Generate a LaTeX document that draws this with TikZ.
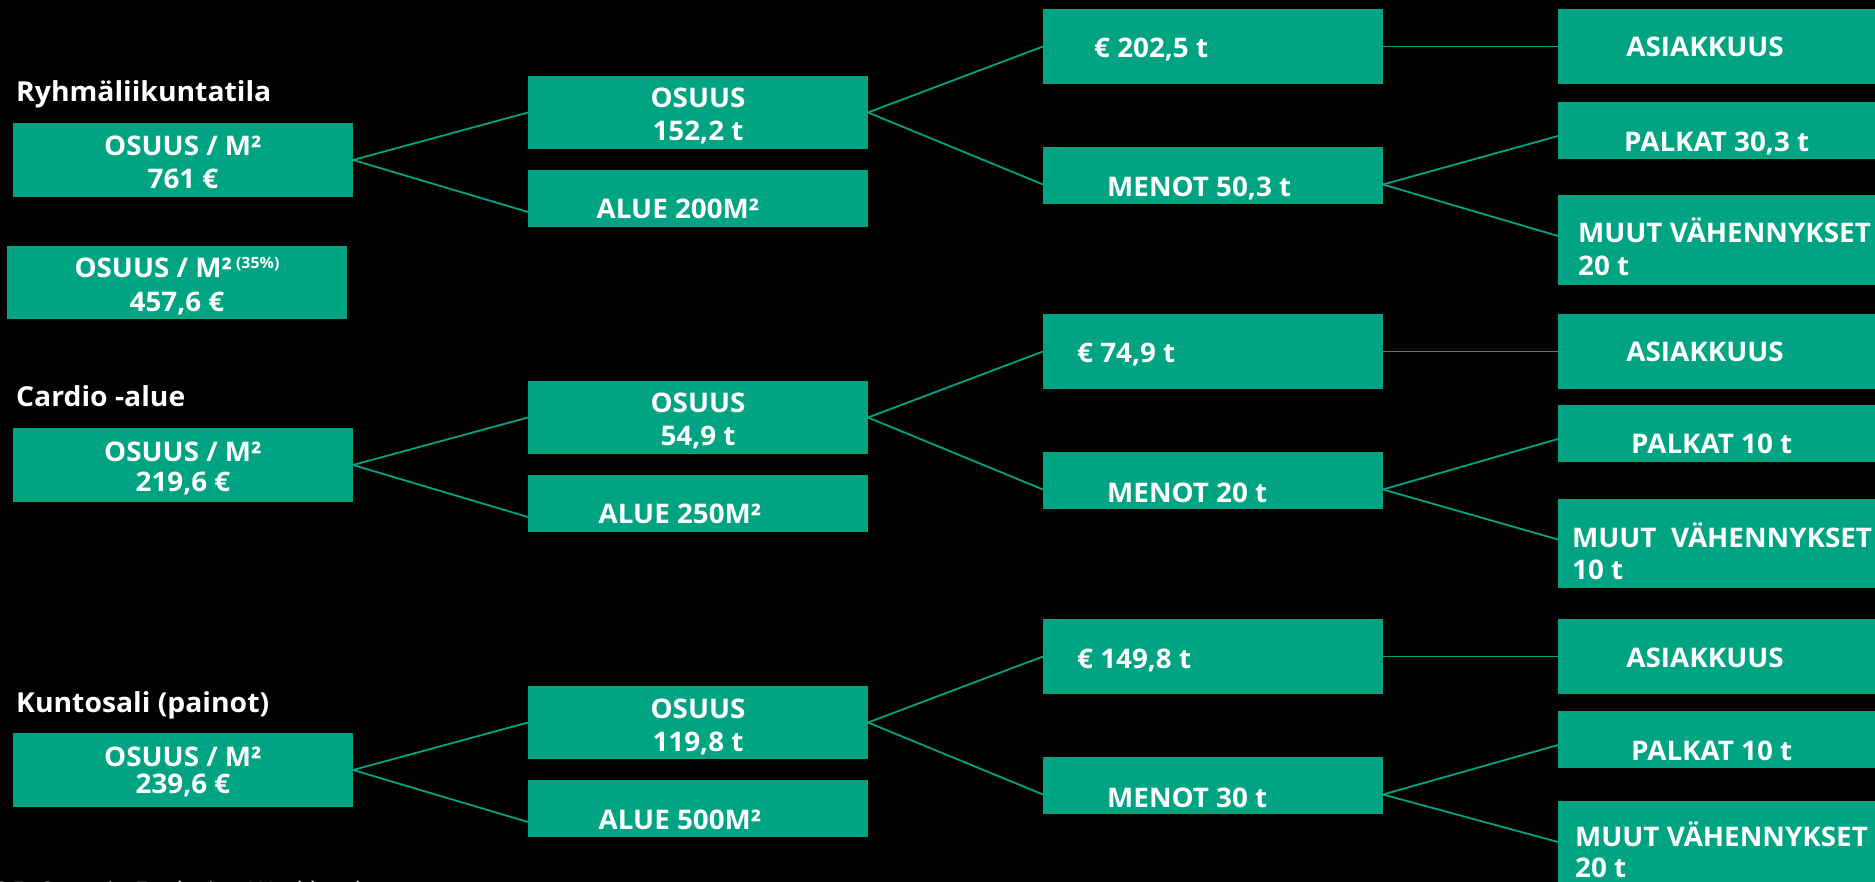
\documentclass[tikz,border=0pt]{standalone}
\usepackage{fontspec}
\setmainfont{Open Sans}[FakeStretch=1.03]
\definecolor{grn}{RGB}{0,164,130}
\tikzset{
  box/.style={fill=grn, draw=none, inner sep=0pt, outer sep=0pt, anchor=north west},
  btxt/.style={text=white, font=\bfseries\fontsize{27}{30}\selectfont, inner sep=0pt, anchor=base},
  ltxt/.style={btxt, anchor=base west},
  ttl/.style={text=white, font=\bfseries\fontsize{27.5}{30}\selectfont, inner sep=0pt, anchor=base west},
  foot/.style={text=white, font=\fontsize{24}{28}\selectfont, inner sep=0pt, anchor=base west},
  conn/.style={draw=grn, line width=1.8pt},
}
\newcommand\gbox[5]{\node[box, minimum width=#4pt, minimum height=#5pt] (#1) at (#2,#3) {};}
\newcommand\supp{\hspace{4pt}\raisebox{9pt}{\fontsize{15.5}{15.5}\selectfont (35\%)}}
\begin{document}
\begin{tikzpicture}[x=1pt, y=-1pt]
\clip (0,0) rectangle (1875,882);
\fill[black] (0,0) rectangle (1875,882);

% ---------- group 1 ----------
\gbox{a1}{13}{123}{340}{74}
\gbox{a2}{7}{246}{340}{73}
\gbox{os1}{528}{76}{340}{73}
\gbox{al1}{528}{170}{340}{57}
\gbox{eu1}{1043}{9}{340}{75}
\gbox{me1}{1043}{147}{340}{57}
\gbox{as1}{1558}{9}{340}{75}
\gbox{pa1}{1558}{102}{340}{57}
\gbox{mu1}{1558}{195}{340}{90}

% ---------- group 2 ----------
\gbox{b1}{13}{428}{340}{74}
\gbox{os2}{528}{381}{340}{73}
\gbox{al2}{528}{475}{340}{57}
\gbox{eu2}{1043}{314}{340}{75}
\gbox{me2}{1043}{452}{340}{57}
\gbox{as2}{1558}{314}{340}{75}
\gbox{pa2}{1558}{405}{340}{57}
\gbox{mu2}{1558}{499}{340}{89}

% ---------- group 3 ----------
\gbox{c1}{13}{733}{340}{74}
\gbox{os3}{528}{686}{340}{73}
\gbox{al3}{528}{780}{340}{57}
\gbox{eu3}{1043}{619}{340}{75}
\gbox{me3}{1043}{757}{340}{57}
\gbox{as3}{1558}{619}{340}{75}
\gbox{pa3}{1558}{711}{340}{57}
\gbox{mu3}{1558}{801}{340}{90}

% ---------- connectors ----------
\foreach \g/\l in {1/a1,2/b1,3/c1}{
  \draw[conn] (\l.east) -- (os\g.west);
  \draw[conn] (\l.east) -- ([yshift=-13.5pt]al\g.west);
  \draw[conn] (os\g.east) -- (eu\g.west);
  \draw[conn] (os\g.east) -- ([yshift=-9pt]me\g.west);
  \draw[conn] (eu\g.east) -- (as\g.west);
  \draw[conn] ([yshift=-9pt]me\g.east) -- ([yshift=-5.5pt]pa\g.west);
  \draw[conn] ([yshift=-9pt]me\g.east) -- ([yshift=4pt]mu\g.west);
}

% ---------- texts group 1 ----------
\node[ttl] (t1) at (16,102) {Ryhmäliikuntatila};
\node[btxt] (a1t1) at (183,156) {OSUUS / M²};
\node[btxt] (a1t2) at (183,189) {761 €};
\node[btxt] (a2t1) at (177,278) {OSUUS / M²\supp};
\node[btxt] (a2t2) at (177,312) {457,6 €};
\node[btxt] (os1t1) at (698,108) {OSUUS};
\node[btxt] (os1t2) at (698,141) {152,2 t};
\node[btxt] (al1t) at (678,219) {ALUE 200M²};
\node[ltxt] (eu1t) at (1094,58) {€ 202,5 t};
\node[ltxt] (me1t) at (1107,197) {MENOT 50,3 t};
\node[btxt] (as1t) at (1705,57) {ASIAKKUUS};
\node[ltxt] (pa1t) at (1624,152) {PALKAT 30,3 t};
\node[ltxt] (mu1t1) at (1578,243) {MUUT VÄHENNYKSET};
\node[ltxt] (mu1t2) at (1578,276) {20 t};

% ---------- texts group 2 ----------
\node[ttl] (t2) at (16,407) {Cardio -alue};
\node[btxt] (b1t1) at (183,461) {OSUUS / M²};
\node[btxt] (b1t2) at (183,492) {219,6 €};
\node[btxt] (os2t1) at (698,413) {OSUUS};
\node[btxt] (os2t2) at (698,446) {54,9 t};
\node[btxt] (al2t) at (680,523) {ALUE 250M²};
\node[ltxt] (eu2t) at (1077,363) {€ 74,9 t};
\node[ltxt] (me2t) at (1107,502) {MENOT 20 t};
\node[btxt] (as2t) at (1705,362) {ASIAKKUUS};
\node[ltxt] (pa2t) at (1631,454) {PALKAT 10 t};
\node[ltxt] (mu2t1) at (1572,547) {MUUT\ \ VÄHENNYKSET};
\node[ltxt] (mu2t2) at (1572,579) {10 t};

% ---------- texts group 3 ----------
\node[ttl] (t3) at (16,712) {Kuntosali (painot)};
\node[btxt] (c1t1) at (183,766) {OSUUS / M²};
\node[btxt] (c1t2) at (183,793) {239,6 €};
\node[btxt] (os3t1) at (698,718) {OSUUS};
\node[btxt] (os3t2) at (698,751) {119,8 t};
\node[btxt] (al3t) at (680,829) {ALUE 500M²};
\node[ltxt] (eu3t) at (1077,668) {€ 149,8 t};
\node[ltxt] (me3t) at (1107,807) {MENOT 30 t};
\node[btxt] (as3t) at (1705,667) {ASIAKKUUS};
\node[ltxt] (pa3t) at (1631,760) {PALKAT 10 t};
\node[ltxt] (mu3t1) at (1575,846) {MUUT VÄHENNYKSET};
\node[ltxt] (mu3t2) at (1575,877) {20 t};

% ---------- footer (cut off at the bottom edge, as in the original) ----------
\node[foot] (ft) at (-8,899) {OE: Omaxio Exploring Workbook};
\end{tikzpicture}
\end{document}
